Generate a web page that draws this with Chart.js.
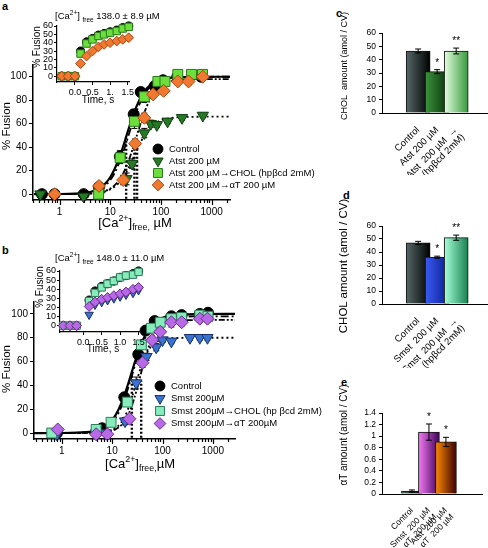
<!DOCTYPE html>
<html>
<head>
<meta charset="utf-8">
<script src="https://cdn.jsdelivr.net/npm/chart.js@4.4.0/dist/chart.umd.min.js"></script>
<style>
  body { margin: 0; width: 488px; height: 548px; position: relative; overflow: hidden; background: #fff;
         font-family: "Liberation Sans", Arial, sans-serif; color: #000; }
  canvas { position: absolute; }
  .t { position: absolute; white-space: nowrap; line-height: 1; }
  .c { transform: translate(-50%, -50%); }
  .r { transform: translate(-50%, -50%) rotate(-90deg); }
  .lt { font-weight: bold; font-size: 11px; }
  sup, sub { font-size: 68%; line-height: 0; }
</style>
</head>
<body>

<div class="t lt" style="left:2px;top:1px">a</div>
<div class="t lt" style="left:2px;top:245px">b</div>
<div class="t lt" style="left:336px;top:8px">c</div>
<div class="t lt" style="left:343px;top:190px">d</div>
<div class="t lt" style="left:341px;top:377px">e</div>

<canvas id="mainA" width="330" height="170" style="left:0;top:55px"></canvas>
<canvas id="insetA" width="116" height="80" style="left:20px;top:18px"></canvas>
<canvas id="mainB" width="330" height="180" style="left:0;top:292px"></canvas>
<canvas id="insetB" width="125" height="86" style="left:22px;top:262px"></canvas>
<canvas id="barC" width="158" height="150" style="left:330px;top:25px"></canvas>
<canvas id="barD" width="158" height="150" style="left:330px;top:218px"></canvas>
<canvas id="barE" width="158" height="143" style="left:330px;top:405px"></canvas>

<div class="t" style="left:55px;top:11px;font-size:9.5px">[Ca<sup>2+</sup>] <sub>free</sub> 138.0 ± 8.9 µM</div>
<div class="t r" style="left:37px;top:47px;font-size:10px">% Fusion</div>
<div class="t c" style="left:98px;top:100px;font-size:10px">Time, s</div>
<div class="t r" style="left:7px;top:126px;font-size:11.5px">% Fusion</div>
<div class="t c" style="left:135px;top:222px;font-size:13px">[Ca<sup>2+</sup>]<sub>free,</sub> µM</div>

<div class="t" style="left:55px;top:253px;font-size:9.5px">[Ca<sup>2+</sup>] <sub>free</sub> 148.0 ± 11.0 µM</div>
<div class="t r" style="left:40px;top:287px;font-size:10px">% Fusion</div>
<div class="t c" style="left:103px;top:349px;font-size:10px">Time, s</div>
<div class="t r" style="left:7px;top:369px;font-size:11.5px">% Fusion</div>
<div class="t c" style="left:140px;top:463px;font-size:13px">[Ca<sup>2+</sup>]<sub>free,</sub>µM</div>

<div class="t r" style="left:344px;top:66px;font-size:9px">CHOL&nbsp; amount (amol / CV)</div>
<div class="t r" style="left:344px;top:266px;font-size:11.5px">CHOL amount (amol / CV)</div>
<div class="t r" style="left:344px;top:435px;font-size:10px">αT amount (amol / CV)</div>

<script>
// ---- panel a : dose-response points ----
const aCtrlX = [0.45, 0.8, 3, 6, 15.5, 29, 40, 75, 110, 210, 620];
const aCtrlY = [0, 0, 0, 6, 32, 68, 87, 92, 97, 100, 100];
const aCtrlErr = [0, 0, 0, 1, 5, 4, 3, 2, 1, 1, 1];
const aAtstX = [0.42, 3, 6.2, 21, 27, 47, 63, 83, 135, 260, 670];
const aAtstY = [0, -2, 0, 13, 26, 52, 60, 59, 62, 65, 67];
const aAtstErr = [0, 0, 0, 5, 4, 4, 3, 2, 2, 2, 2];
const aCholX = [5.9, 15.7, 30, 47, 87, 120, 215, 400, 660];
const aCholY = [0, 31, 62, 83, 96, 96, 102, 102, 102];
const aCholErr = [0, 5, 6, 5, 2, 2, 2, 2, 2];
const aAlphaX = [0.8, 6, 18, 31, 47, 70, 113, 215, 350, 670];
const aAlphaY = [0, 7, 12, 43, 65, 85, 88, 96, 96, 100];
const aAlphaErr = [0, 2, 4, 4, 4, 3, 3, 3, 3, 2];

// panel a : fitted curves
const fitXA = [0.32, 1, 2, 3, 4, 5, 6, 8, 10, 12, 15, 18, 21, 25, 30, 35, 40, 50, 60, 80, 100, 150, 200, 500, 2300];
const aFitCtrl = [0, 0.1, 0.4, 0.9, 1.8, 3.1, 4.7, 9, 14.4, 20.7, 30.8, 40.8, 50, 60.3, 70.2, 77.3, 82.5, 88.9, 92.5, 96.1, 97.7, 99.1, 99.5, 99.9, 100];
const aFitAtst = [0, 0, 0.1, 0.2, 0.4, 0.7, 1.2, 2.3, 4, 6.1, 9.9, 14.4, 19, 25.6, 33, 39.3, 44.4, 51.6, 56.1, 60.8, 62.9, 64.8, 65.4, 65.9, 66];
const aFitChol = [0, 0.05, 0.3, 0.75, 1.5, 2.5, 3.8, 7.4, 11.9, 17.4, 26.4, 35.7, 44.6, 55, 65.4, 73.3, 79.1, 86.6, 90.9, 95.2, 97.1, 98.9, 99.4, 99.9, 100];
const aFitAlpha = [0, 0, 0.1, 0.2, 0.5, 0.9, 1.4, 2.8, 4.7, 7.2, 12, 17.7, 23.9, 32.7, 43.2, 52.6, 60.6, 72.4, 80, 88.4, 92.2, 95.8, 96.9, 97.9, 98];
const aEcX = [20.6, 30, 33.8];
const aEcTop = [48, 40, 44];

// panel a inset : kinetics
const insTimeA = [-0.375, -0.19, 0, 0.16, 0.33, 0.5, 0.67, 0.83, 1.0, 1.19, 1.36, 1.53];
const insACtrl = [0, 0, 0, 30, 41, 45, 49, 51, 53, 55, 58, 60];
const insAChol = [0, 0, 0, 27, 39, 44, 48, 50, 52, 54, 57, 59];
const insAAlpha = [0, 0, 0, 15, 24, 30, 35, 38, 40, 42, 44, 46];
const insTicksA = ["0.0", "0.5", "1.", "1.5"];

// ---- panel b ----
const bCtrlX = [0.8, 6.3, 17.4, 33, 46, 70, 150, 240, 550, 800];
const bCtrlY = [0, 4, 30, 66, 86, 94, 98, 99, 100, 101];
const bCtrlErr = [0, 1, 3, 4, 3, 2, 2, 2, 2, 2];
const bSmstX = [0.8, 4.8, 7.5, 18, 30, 48, 75, 100, 150, 350, 550, 780];
const bSmstY = [-1, 0, 0, 10, 42, 64, 72, 78, 77, 80, 80, 80];
const bSmstErr = [0, 0, 0, 3, 5, 3, 3, 2, 2, 2, 2, 2];
const bCholX = [0.63, 4.8, 9.5, 20, 38, 60, 90, 150, 240, 550, 800];
const bCholY = [0, 3, 9, 26, 74, 88, 93, 96, 97, 99, 98];
const bCholErr = [0, 2, 2, 3, 3, 3, 2, 2, 2, 2, 2];
const bAlphaX = [0.83, 4.8, 8, 22, 40, 62, 90, 150, 240, 550, 780];
const bAlphaY = [3, -1, -1, 12, 59, 78, 85, 93, 93, 96, 96];
const bAlphaErr = [0, 0, 0, 3, 4, 3, 3, 4, 3, 3, 3];

const fitXB = [0.28, 1, 2, 3, 4, 5, 6, 8, 10, 12, 15, 18, 21, 25, 30, 35, 40, 50, 60, 80, 100, 150, 200, 500, 2750];
const bFitCtrl = [0, 0.05, 0.3, 0.7, 1.3, 2.3, 3.5, 6.7, 10.9, 15.9, 24.5, 33.4, 42, 52.4, 63.1, 71.2, 77.3, 85.4, 90, 94.7, 96.8, 98.8, 99.3, 99.9, 100];
const bFitSmst = [0, 0, 0, 0.1, 0.1, 0.3, 0.5, 1.3, 2.6, 4.5, 8.7, 14.3, 21, 30.7, 42.2, 51.7, 58.9, 68.1, 72.9, 77, 78.5, 79.6, 79.8, 80, 80];
const bFitChol = [0, 0, 0.2, 0.5, 1, 1.7, 2.7, 5.4, 9, 13.5, 21.4, 30, 38.5, 49, 60, 68.5, 74.9, 83.3, 88.1, 92.9, 95, 96.9, 97.5, 97.9, 98];
const bFitAlpha = [0, 0, 0, 0.1, 0.1, 0.3, 0.4, 1, 2, 3.4, 6.4, 10.6, 15.7, 23.8, 34.8, 45.4, 55, 69.2, 78.1, 87.1, 90.8, 93.7, 94.4, 94.9, 95];
const bEcX = [24.6, 37.7];
const bEcTop = [50, 44];

const insTimeB = [-0.54, -0.36, -0.18, 0.16, 0.32, 0.5, 0.66, 0.83, 1.0, 1.16, 1.35, 1.5];
const insBCtrl = [0, 0, 0, 28, 38, 43, 46, 49, 53, 55, 57, 60];
const insBChol = [0, 0, 0, 27, 36, 42, 46, 49, 53, 55, 56, 59];
const insBSmst = [0, 0, 0, 12, 23, 26, 28, 30, 32, 34, 36, 39];
const insBAlpha = [0, 0, 0, 21, 26, 29, 31, 33, 35, 37, 40, 42];
const insTicksB = ["0.0", "0.5", "1.0", "1.5"];

const legendA = ["Control", "Atst 200 µM", "Atst 200 µM→CHOL (hpβcd 2mM)", "Atst 200 µM→αT 200 µM"];
const legendB = ["Control", "Smst 200µM", "Smst 200µM→CHOL (hp βcd 2mM)", "Smst 200µM→αT 200µM"];

// ---- bar panels ----
const catsC = ["Control", "Atst 200 µM", ["Atst  200 µM  →", "CHOL (hpβcd 2mM)"]];
const cholC = [46.5, 31, 46.5];
const cholCErr = [1.5, 1.5, 2.2];
const catsD = ["Control", "Smst  200 µM", ["Smst  200 µM  →", "CHOL (hpβcd 2mM)"]];
const cholD = [47, 36, 51];
const cholDErr = [1.2, 0.8, 2];
const catsE = ["Control", ["Smst  200 µM", "→ αT  200 µM"], ["Atst  200 µM", "→ αT  200 µM"]];
const alphaE = [0.05, 1.07, 0.9];
const alphaEErr = [0.02, 0.14, 0.08];
const sigC = ["", "*", "**"];
const sigE = ["", "*", "*"];

// styles
const FONT = '"Liberation Sans", Arial, sans-serif';
const stCtrl = { pointStyle: 'circle', pointRadius: 5.5, backgroundColor: '#000', borderColor: '#000' };
const stAtst = { pointStyle: 'triangle', pointRotation: 180, pointRadius: 6.5, backgroundColor: '#267a26', borderColor: '#0d3d0d' };
const stCholA = { pointStyle: 'rect', pointRadius: 7, backgroundColor: '#6be03c', borderColor: '#2b7a1e' };
const stAlphaA = { pointStyle: 'rectRot', pointRadius: 6.5, backgroundColor: '#f07830', borderColor: '#a84a12' };
const stSmst = { pointStyle: 'triangle', pointRotation: 180, pointRadius: 6.5, backgroundColor: '#3a72d0', borderColor: '#16306a' };
const stCholB = { pointStyle: 'rect', pointRadius: 7, backgroundColor: '#86ecbc', borderColor: '#2d7a58' };
const stAlphaB = { pointStyle: 'rectRot', pointRadius: 6.5, backgroundColor: '#b86ae6', borderColor: '#6a2c8c' };

function pts(xs, ys) { return xs.map((x, i) => ({ x: x, y: ys[i] })); }

function marker(ctx, st, x, y, r) {
  ctx.fillStyle = st.backgroundColor; ctx.strokeStyle = st.borderColor; ctx.lineWidth = 1;
  ctx.beginPath();
  if (st.pointStyle === 'circle') ctx.arc(x, y, r, 0, Math.PI * 2);
  else if (st.pointStyle === 'rect') { const s = r * Math.SQRT1_2; ctx.rect(x - s, y - s, 2 * s, 2 * s); }
  else if (st.pointStyle === 'rectRot') { ctx.moveTo(x, y - r); ctx.lineTo(x + r, y); ctx.lineTo(x, y + r); ctx.lineTo(x - r, y); ctx.closePath(); }
  else { ctx.moveTo(x - r * 0.866, y - r * 0.5); ctx.lineTo(x + r * 0.866, y - r * 0.5); ctx.lineTo(x, y + r); ctx.closePath(); }
  ctx.fill(); ctx.stroke();
}

function fixAxis(size) {
  return function (s) {
    if (s.isHorizontal()) s.height = size; else s.width = size;
    s.paddingLeft = s.paddingRight = s.paddingTop = s.paddingBottom = 0;
  };
}

function pointSet(xs, ys, st, order, scale, errs) {
  return Object.assign({ data: pts(xs, ys), showLine: false, borderWidth: 1, order: order, clip: false, errs: errs }, st,
    { pointRadius: st.pointRadius * (scale || 1) });
}
function fitSet(xs, ys, dash, w) {
  return { data: pts(xs, ys), showLine: true, pointRadius: 0, borderColor: '#000', borderWidth: w || 1.8,
           borderDash: dash, cubicInterpolationMode: 'monotone', order: 20, clip: false };
}
function ecSets(xs, tops) {
  return xs.map((x, i) => ({ data: [{ x: x, y: -4 }, { x: x, y: tops[i] }], showLine: true, pointRadius: 0,
    borderColor: '#000', borderWidth: 2.4, borderDash: [2, 2], order: 30 }));
}

const logTicks = [0.3, 0.4, 0.5, 0.6, 0.7, 0.8, 0.9, 1, 2, 3, 4, 5, 6, 7, 8, 9, 10, 20, 30, 40, 50, 60, 70, 80, 90,
                  100, 200, 300, 400, 500, 600, 700, 800, 900, 1000, 2000];
const logMajor = [1, 10, 100, 1000];

// legend, error bars and long/short log ticks for the dose-response panels
function mainPlugin(labels, styles, x0, y0, dy) {
  return {
    id: 'mainExtras',
    beforeDatasetsDraw(chart) {
      const ctx = chart.ctx, ys = chart.scales.y;
      ctx.save();
      ctx.strokeStyle = '#000'; ctx.lineWidth = 1;
      chart.data.datasets.forEach((ds, i) => {
        if (!ds.errs) return;
        chart.getDatasetMeta(i).data.forEach((el, j) => {
          const e = ds.errs[j];
          if (!e) return;
          const yt = ys.getPixelForValue(ds.data[j].y + e), yb = ys.getPixelForValue(ds.data[j].y - e);
          ctx.beginPath();
          ctx.moveTo(el.x, yt); ctx.lineTo(el.x, yb);
          ctx.moveTo(el.x - 3, yt); ctx.lineTo(el.x + 3, yt);
          ctx.moveTo(el.x - 3, yb); ctx.lineTo(el.x + 3, yb);
          ctx.stroke();
        });
      });
      ctx.restore();
    },
    afterDraw(chart) {
      const ctx = chart.ctx, xs = chart.scales.x, bottom = chart.chartArea.bottom;
      ctx.save();
      ctx.strokeStyle = '#000'; ctx.lineWidth = 1.2;
      logTicks.forEach(v => {
        if (v < xs.min || v > xs.max) return;
        const px = Math.round(xs.getPixelForValue(v)) + 0.5;
        ctx.beginPath(); ctx.moveTo(px, bottom); ctx.lineTo(px, bottom + (logMajor.includes(v) ? 5 : 3)); ctx.stroke();
      });
      ctx.font = '9.5px ' + FONT;
      ctx.textBaseline = 'middle';
      labels.forEach((txt, i) => {
        const y = y0 + i * dy;
        marker(ctx, styles[i], x0, y, styles[i].pointRadius * 0.9);
        ctx.fillStyle = '#000';
        ctx.fillText(txt, x0 + 11, y);
      });
      ctx.restore();
    }
  };
}

function mainChart(id, xMin, xMax, yW, xH, padTop, padRight, datasets, plugin) {
  return new Chart(document.getElementById(id), {
    type: 'scatter',
    data: { datasets: datasets },
    plugins: [plugin],
    options: {
      responsive: false, animation: false, events: [],
      layout: { padding: { top: padTop, right: padRight, left: 0, bottom: 0 } },
      plugins: { legend: { display: false }, tooltip: { enabled: false } },
      scales: {
        x: {
          type: 'logarithmic', min: xMin, max: xMax,
          afterBuildTicks: s => { s.ticks = logMajor.filter(v => v >= xMin && v <= xMax).map(v => ({ value: v })); },
          afterFit: fixAxis(xH),
          ticks: { autoSkip: false, maxRotation: 0, color: '#000', padding: 6, font: { size: 10, family: FONT },
                   callback: v => String(v) },
          grid: { display: false, drawTicks: false, tickLength: 0 },
          border: { display: true, color: '#000', width: 1.5 }
        },
        y: {
          min: -5, max: 110,
          afterBuildTicks: s => { s.ticks = [0, 20, 40, 60, 80, 100].map(v => ({ value: v })); },
          afterFit: fixAxis(yW),
          ticks: { autoSkip: false, color: '#000', padding: 2, font: { size: 10, family: FONT } },
          grid: { drawOnChartArea: false, color: '#000', tickLength: 4 },
          border: { display: true, color: '#000', width: 1.5 }
        }
      }
    }
  });
}

function insetChart(id, xMin, xMax, yW, xH, padTop, padRight, datasets, tickLabels) {
  const tv = [0, 0.5, 1, 1.5];
  return new Chart(document.getElementById(id), {
    type: 'scatter',
    data: { datasets: datasets },
    options: {
      responsive: false, animation: false, events: [],
      layout: { padding: { top: padTop, right: padRight, left: 0, bottom: 0 } },
      plugins: { legend: { display: false }, tooltip: { enabled: false } },
      scales: {
        x: {
          type: 'linear', min: xMin, max: xMax,
          afterBuildTicks: s => { s.ticks = tv.map(v => ({ value: v })); },
          afterFit: fixAxis(xH),
          ticks: { autoSkip: false, maxRotation: 0, color: '#000', padding: 2, font: { size: 9, family: FONT },
                   callback: (v) => tickLabels[tv.indexOf(v)] },
          grid: { drawOnChartArea: false, color: '#000', tickLength: 3 },
          border: { display: true, color: '#000', width: 1.2 }
        },
        y: {
          min: -7, max: 60,
          afterBuildTicks: s => { s.ticks = [0, 10, 20, 30, 40, 50, 60].map(v => ({ value: v })); },
          afterFit: fixAxis(yW),
          ticks: { autoSkip: false, color: '#000', padding: 1, font: { size: 9, family: FONT } },
          grid: { drawOnChartArea: false, color: '#000', tickLength: 3 },
          border: { display: true, color: '#000', width: 1.2 }
        }
      }
    }
  });
}

// horizontal gradient per bar, computed from the x scale
function gradFill(cols, w) {
  return ctx => {
    const ch = ctx.chart, sx = ch.scales.x;
    const c = cols[ctx.dataIndex] || cols[0];
    if (!sx || !ctx.parsed) return c[1];
    const x = sx.getPixelForValue(ctx.parsed.x);
    if (!isFinite(x)) return c[1];
    const g = ch.ctx.createLinearGradient(x - w / 2, 0, x + w / 2, 0);
    g.addColorStop(0, c[0]); g.addColorStop(1, c[1]);
    return g;
  };
}

function barChart(id, cats, vals, errs, sig, cols, opts) {
  const idx = cats.map((c, i) => i);
  const extras = {
    id: 'barExtras',
    afterDatasetsDraw(chart) {
      const ctx = chart.ctx, ys = chart.scales.y, meta = chart.getDatasetMeta(0);
      ctx.save();
      ctx.strokeStyle = '#000'; ctx.fillStyle = '#000'; ctx.lineWidth = 1;
      ctx.font = '10px ' + FONT; ctx.textAlign = 'center';
      meta.data.forEach((bar, i) => {
        const yt = ys.getPixelForValue(vals[i] + errs[i]), yb = ys.getPixelForValue(vals[i] - errs[i]);
        ctx.beginPath();
        ctx.moveTo(bar.x, yt); ctx.lineTo(bar.x, yb);
        ctx.moveTo(bar.x - 3, yt); ctx.lineTo(bar.x + 3, yt);
        ctx.moveTo(bar.x - 3, yb); ctx.lineTo(bar.x + 3, yb);
        ctx.stroke();
        if (sig[i]) ctx.fillText(sig[i], bar.x, yt - 4);
      });
      ctx.restore();
    }
  };
  return new Chart(document.getElementById(id), {
    type: 'bar',
    data: { datasets: [{ data: pts(idx, vals), backgroundColor: gradFill(cols, opts.bw), borderColor: '#111',
                         borderWidth: 1, borderSkipped: 'bottom', barThickness: opts.bw }] },
    plugins: [extras],
    options: {
      responsive: false, animation: false, events: [],
      layout: { padding: { top: opts.padTop, right: opts.padRight, left: 0, bottom: 0 } },
      plugins: { legend: { display: false }, tooltip: { enabled: false } },
      scales: {
        x: {
          type: 'linear', min: opts.xMin, max: opts.xMax,
          afterBuildTicks: s => { s.ticks = idx.map(v => ({ value: v })); },
          afterFit: fixAxis(opts.xH),
          ticks: { autoSkip: false, minRotation: 45, maxRotation: 45, color: '#000', padding: 4,
                   font: { size: opts.lf, family: FONT, lineHeight: 1.05 }, callback: v => cats[v] },
          grid: { display: false },
          border: { display: true, color: '#000', width: 1 }
        },
        y: {
          min: 0, max: opts.yMax,
          afterBuildTicks: s => { s.ticks = opts.yTicks.map(v => ({ value: v })); },
          afterFit: fixAxis(52),
          ticks: { autoSkip: false, color: '#000', padding: 3, font: { size: 8.5, family: FONT },
                   callback: v => String(Math.round(v * 10) / 10) },
          grid: { drawOnChartArea: false, color: '#000', tickLength: 3 },
          border: { display: true, color: '#000', width: 1 }
        }
      }
    }
  });
}

window.onload = function () {
  // panel a main
  mainChart('mainA', 0.32, 2300, 33, 25, 10, 100, [
    fitSet(fitXA, aFitCtrl, [], 2.2),
    fitSet(fitXA, aFitAtst, [2, 3]),
    fitSet(fitXA, aFitChol, [8, 3, 2, 3]),
    fitSet(fitXA, aFitAlpha, [6, 2, 2, 2, 2, 2]),
    ...ecSets(aEcX, aEcTop),
    pointSet(aCtrlX, aCtrlY, stCtrl, 4, 1, aCtrlErr),
    pointSet(aAtstX, aAtstY, stAtst, 3, 1, aAtstErr),
    pointSet(aCholX, aCholY, stCholA, 2, 1, aCholErr),
    pointSet(aAlphaX, aAlphaY, stAlphaA, 1, 1, aAlphaErr)
  ], mainPlugin(legendA, [stCtrl, stAtst, stCholA, stAlphaA], 158, 94, 12));

  insetChart('insetA', -0.51, 1.56, 37, 16, 8, 6, [
    pointSet(insTimeA, insACtrl, stCtrl, 3, 0.75),
    pointSet(insTimeA, insAChol, stCholA, 2, 0.75),
    pointSet(insTimeA, insAAlpha, stAlphaA, 1, 0.75)
  ], insTicksA);

  // panel b main
  mainChart('mainB', 0.28, 2750, 34, 33, 10, 95, [
    fitSet(fitXB, bFitCtrl, [], 2.2),
    fitSet(fitXB, bFitSmst, [2, 3]),
    fitSet(fitXB, bFitChol, [8, 3, 2, 3]),
    fitSet(fitXB, bFitAlpha, [6, 2, 2, 2, 2, 2]),
    ...ecSets(bEcX, bEcTop),
    pointSet(bCtrlX, bCtrlY, stCtrl, 4, 1, bCtrlErr),
    pointSet(bSmstX, bSmstY, stSmst, 3, 1, bSmstErr),
    pointSet(bCholX, bCholY, stCholB, 2, 1, bCholErr),
    pointSet(bAlphaX, bAlphaY, stAlphaB, 1, 1, bAlphaErr)
  ], mainPlugin(legendB, [stCtrl, stSmst, stCholB, stAlphaB], 160, 94, 12.5));

  insetChart('insetB', -0.63, 1.56, 38, 16, 9, 6, [
    pointSet(insTimeB, insBCtrl, stCtrl, 4, 0.75),
    pointSet(insTimeB, insBSmst, stSmst, 3, 0.75),
    pointSet(insTimeB, insBChol, stCholB, 2, 0.75),
    pointSet(insTimeB, insBAlpha, stAlphaB, 1, 0.75)
  ], insTicksB);

  // bar panels
  barChart('barC', catsC, cholC, cholCErr, sigC,
    [['#566868', '#000000'], ['#3c943c', '#062f06'], ['#e4ffe0', '#35983a']],
    { bw: 24, xMin: -0.98, xMax: 2.70, xH: 62, padTop: 8, padRight: 1, yMax: 60, lf: 9.5,
      yTicks: [0, 10, 20, 30, 40, 50, 60] });
  barChart('barD', catsD, cholD, cholDErr, sigC,
    [['#566868', '#000000'], ['#3a5cf4', '#0a1a8a'], ['#a8ffd8', '#168050']],
    { bw: 24, xMin: -0.98, xMax: 2.70, xH: 64, padTop: 8, padRight: 1, yMax: 60, lf: 9.5,
      yTicks: [0, 10, 20, 30, 40, 50, 60] });
  barChart('barE', catsE, alphaE, alphaEErr, sigE,
    [['#566868', '#000000'], ['#f47af4', '#3c0056'], ['#ff8a00', '#3c0000']],
    { bw: 21, xMin: -0.78, xMax: 3.14, xH: 54, padTop: 8, padRight: 6, yMax: 1.4, lf: 8.5,
      yTicks: [0, 0.2, 0.4, 0.6, 0.8, 1, 1.2, 1.4] });
};
</script>
</body>
</html>
